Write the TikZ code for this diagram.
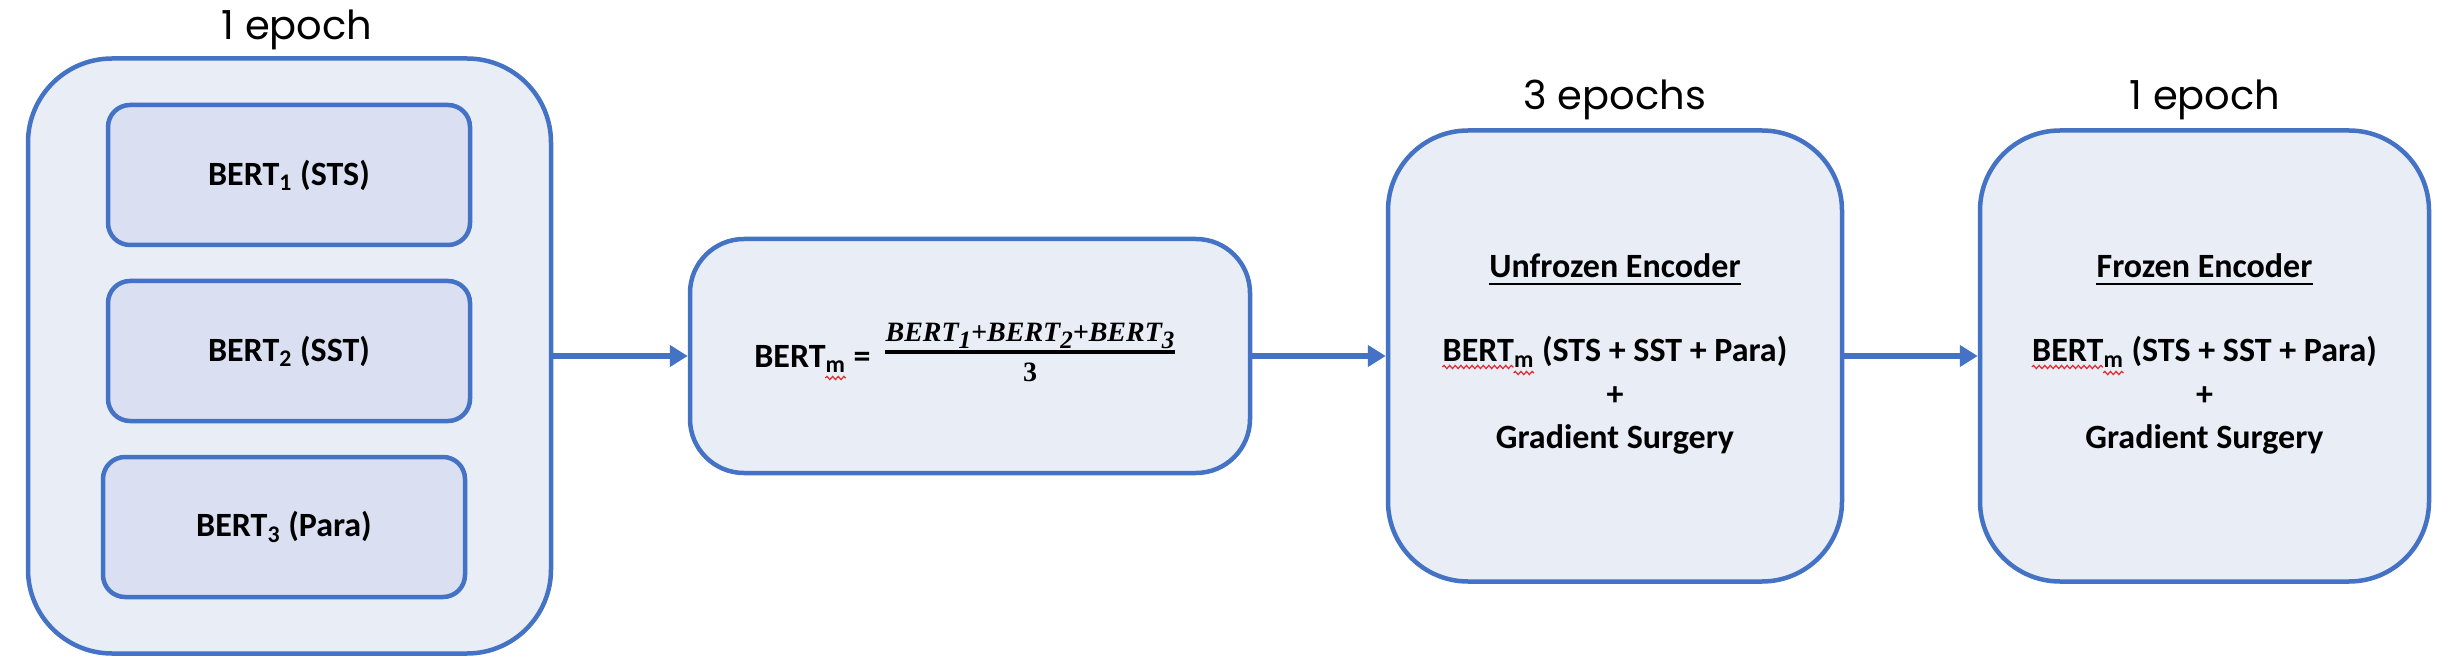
\documentclass[tikz,border=0pt]{standalone}
\usepackage{fontspec}
\setmainfont{Carlito}
\newfontfamily\labelfont{Poppins}
\newfontfamily\mathfnt{Liberation Serif}
\usetikzlibrary{arrows.meta,decorations.pathmorphing,calc}
\definecolor{bstroke}{RGB}{68,114,196}
\definecolor{bfill}{RGB}{233,237,246}
\definecolor{ifill}{RGB}{218,224,241}
\definecolor{wavered}{RGB}{230,40,40}
\newcommand\bxfont{\fontsize{17}{20}\selectfont\bfseries}
\newcommand\fmfont{\mathfnt\bfseries\itshape\fontsize{14}{16}\selectfont}
\newcommand\fsub[1]{\raisebox{-3.5pt}{\fontsize{12.5}{13}\selectfont #1}}
\newlength\wB
\newlength\wBm
\begin{document}
\settowidth\wB{\bxfont BERT}%
\settowidth\wBm{\bxfont BERT\textsubscript{m}}%
\begin{tikzpicture}[x=0.5pt,y=-0.5pt,
  bx/.style={draw=bstroke,line width=2.25pt,fill=bfill,inner sep=0pt},
  ibx/.style={bx,fill=ifill,minimum width=181pt,minimum height=70pt,rounded corners=11pt,font=\bxfont},
  txt/.style={inner sep=0pt,font=\bxfont},
  lbl/.style={inner sep=0pt,font=\labelfont\fontsize{20}{24}\selectfont},
  arr/.style={draw=bstroke,line width=3.2pt,-{Triangle[length=9pt,width=10.5pt]}},
  wave/.style={draw=wavered,line width=0.6pt,decorate,decoration={snake,amplitude=0.8pt,segment length=2.8pt}},
  uline/.style={draw=black,line width=1.3pt}]
\useasboundingbox (0,0) rectangle (2448,668);

% left group
\node[bx,minimum width=261.5pt,minimum height=297.5pt,rounded corners=42pt] (outer) at (289.5,356) {};
\node[ibx] (b1) at (289,175) {BERT\textsubscript{1} (STS)};
\node[ibx] (b2) at (289,351) {BERT\textsubscript{2} (SST)};
\node[ibx] (b3) at (284,527) {BERT\textsubscript{3} (Para)};
\node[lbl,anchor=base] (l1) at (297,40) {1 epoch};

% middle box
\node[bx,minimum width=280pt,minimum height=117pt,rounded corners=27pt] (mid) at (970,356) {};
\node[txt,anchor=base west] (mbt) at (754,367) {BERT\textsubscript{m} =};
\node[inner sep=0pt,anchor=south,font=\fmfont] (num) at (1030,349) {BERT\fsub{1}+BERT\fsub{2}+BERT\fsub{3}};
\draw[line width=1.6pt] ([yshift=-1.5pt]num.south west) -- ([yshift=-1.5pt]num.south east);
\node[inner sep=0pt,anchor=north,font=\mathfnt\bfseries\fontsize{14}{16}\selectfont] (den) at (1030,363) {3};
\draw[wave] ([xshift=\wB,yshift=-5.5pt]mbt.base west) -- ++(\wBm-\wB,0pt);

% box 3
\node[bx,minimum width=227pt,minimum height=225.5pt,rounded corners=40pt] (u) at (1615,356) {};
\node[lbl,anchor=base] (l3) at (1615,110) {3 epochs};
\node[txt,anchor=base] (ut) at (1615,278) {Unfrozen Encoder};
\draw[uline] ([yshift=-3pt]ut.base west) -- ([yshift=-3pt]ut.base east);
\node[txt,anchor=base] (u2) at (1615,362) {BERT\textsubscript{m} (STS + SST + Para)};
\node[txt,anchor=base] (u3) at (1615,405) {+};
\node[txt,anchor=base] (u4) at (1615,448) {Gradient Surgery};
\draw[wave] ([yshift=-2.5pt]u2.base west) -- ++(\wB,0pt);
\draw[wave] ([xshift=\wB,yshift=-5.5pt]u2.base west) -- ++(\wBm-\wB,0pt);

% box 4
\node[bx,minimum width=224.5pt,minimum height=225.5pt,rounded corners=40pt] (f) at (2204.5,356) {};
\node[lbl,anchor=base] (l4) at (2205,110) {1 epoch};
\node[txt,anchor=base] (ft) at (2204.5,278) {Frozen Encoder};
\draw[uline] ([yshift=-3pt]ft.base west) -- ([yshift=-3pt]ft.base east);
\node[txt,anchor=base] (f2) at (2204.5,362) {BERT\textsubscript{m} (STS + SST + Para)};
\node[txt,anchor=base] (f3) at (2204.5,405) {+};
\node[txt,anchor=base] (f4) at (2204.5,448) {Gradient Surgery};
\draw[wave] ([yshift=-2.5pt]f2.base west) -- ++(\wB,0pt);
\draw[wave] ([xshift=\wB,yshift=-5.5pt]f2.base west) -- ++(\wBm-\wB,0pt);

% arrows
\draw[arr] (outer.east) -- (mid.west);
\draw[arr] (mid.east) -- (u.west);
\draw[arr] (u.east) -- (f.west);
\end{tikzpicture}
\end{document}
